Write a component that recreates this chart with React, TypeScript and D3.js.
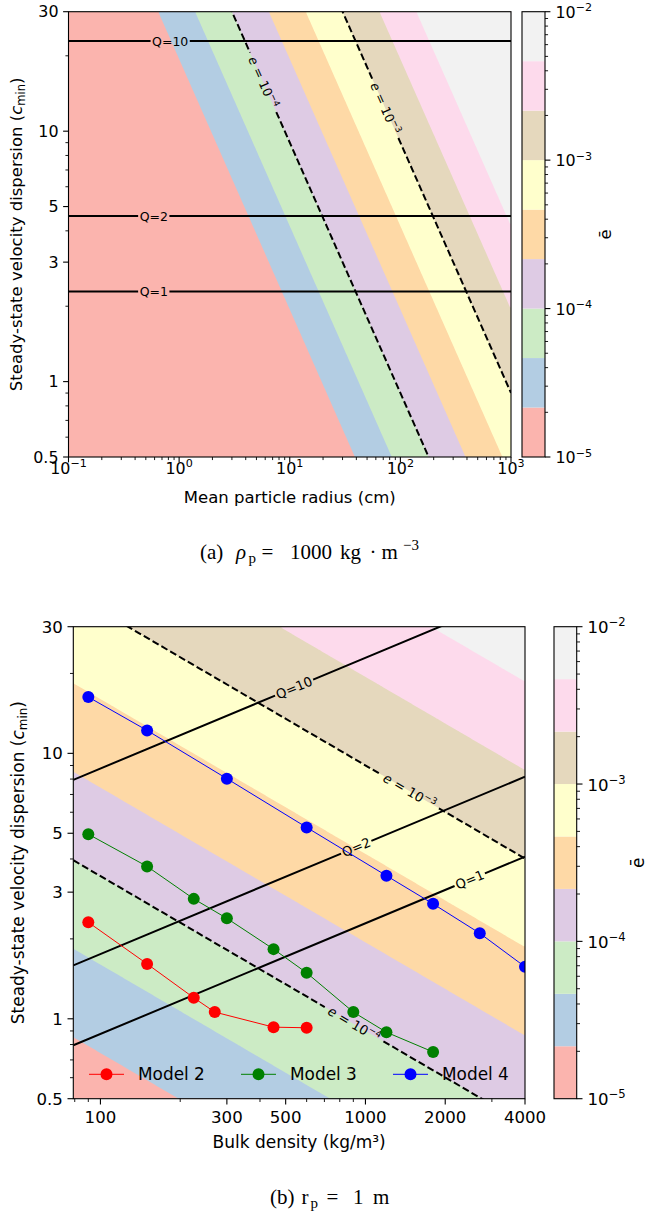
import React from "react";
import * as d3 from "d3";

const W = 647, H = 1212;
const FONT = "'DejaVu Sans', sans-serif";
const SERIF = "'Liberation Serif', 'DejaVu Serif', serif";

// colour bands of e-bar (matplotlib Pastel1), 3 per decade between 1e-5 and 1e-2
const BAND_COLORS = ["#fbb4ae", "#b3cde3", "#ccebc5", "#decbe4", "#fed9a6", "#ffffcc", "#e5d8bd", "#fddaec", "#f2f2f2"];
const E_MIN = 1e-5, E_MAX = 1e-2;
const BANDS_PER_DECADE = 3;
const CBAR_EXPONENTS = [-5, -4, -3, -2];

// e-bar model: e = E0 * r[cm] * c[c_min] * (rho/1000)^GAMMA
const E0 = 1.11e-6;
const GAMMA = 0.583;
// Q contours: c = Q * Q_C1 * (rho/1000)^Q_BETA
const Q_C1 = 2.29;
const Q_BETA = 0.417;

// panel (a): rho_p = 1000 kg m^-3
const A_RHO = 1000;
const A_X_DOMAIN: [number, number] = [0.1, 1000];
const A_Y_DOMAIN: [number, number] = [0.5, 30];
const A_X_EXPONENTS = [-1, 0, 1, 2, 3];
const A_Y_TICKS = [0.5, 1, 3, 5, 10, 30];
const A_Q_LEVELS = [10, 2, 1];
const A_Q_LABEL_X = [0.83, 0.59, 0.59];
const A_E_EXPONENTS = [-4, -3];
const A_E_LABEL_X = [5.75, 73];

// panel (b): r_p = 1 m
const B_R_CM = 100;
const B_X_DOMAIN: [number, number] = [79, 4000];
const B_Y_DOMAIN: [number, number] = [0.5, 30];
const B_X_TICKS = [100, 300, 500, 1000, 2000, 4000];
const B_Y_TICKS = [0.5, 1, 3, 5, 10, 30];
const B_Q_LEVELS = [10, 2, 1];
const B_Q_LABEL_X = [538, 923, 2475];
const B_E_EXPONENTS = [-3, -4];
const B_E_LABEL_X = [1467, 906];

const MODEL_NAMES = ["Model 2", "Model 3", "Model 4"];
const MODEL_COLORS = ["#ff0000", "#008000", "#0000ff"];
const M2_RHO = [90, 150, 225, 270, 450, 600];
const M2_C = [2.31, 1.61, 1.2, 1.06, 0.93, 0.925];
const M3_RHO = [90, 150, 225, 300, 450, 600, 900, 1200, 1800];
const M3_C = [4.96, 3.75, 2.83, 2.39, 1.83, 1.49, 1.06, 0.89, 0.75];
const M4_RHO = [90, 150, 300, 600, 1200, 1800, 2700, 4000];
const M4_C = [16.3, 12.2, 8.03, 5.26, 3.46, 2.71, 2.1, 1.57];
const MODELS = [
  { rho: M2_RHO, c: M2_C },
  { rho: M3_RHO, c: M3_C },
  { rho: M4_RHO, c: M4_C },
];

const CW: Record<string, number> = { Q: 0.787, "=": 0.838, " ": 0.318, e: 0.615, "0": 0.636, "1": 0.636, "2": 0.636, "3": 0.636, "4": 0.636, "−": 0.838 };
function textW(s: string, size: number) {
  let w = 0;
  for (const ch of s) w += CW[ch] ?? 0.6;
  return w * size;
}

function logTicks(domain: [number, number]) {
  const out: number[] = [];
  const k0 = Math.floor(Math.log10(domain[0])), k1 = Math.ceil(Math.log10(domain[1]));
  for (let k = k0; k <= k1; k++)
    for (let m = 1; m < 10; m++) {
      const v = m * Math.pow(10, k);
      if (v >= domain[0] * 0.9999 && v <= domain[1] * 1.0001) out.push(v);
    }
  return out;
}
const isMajor = (v: number, majors: number[]) => majors.some((m) => Math.abs(v / m - 1) < 1e-6);

type Box = { l: number; t: number; r: number; b: number };
type PanelProps = {
  id: string;
  box: Box;
  cbar: { l: number; r: number };
  xDomain: [number, number];
  yDomain: [number, number];
  xTicks: number[];
  xTickLabel: (v: number) => React.ReactNode;
  xTickBaseline: number;
  yTicks: number[];
  eAt: (x: number, c: number) => number;
  qAt: (x: number) => number;
  qLevels: number[];
  qLabelX: number[];
  eExps: number[];
  eLabelX: number[];
  tickFont: number;
  titleFont: number;
  labelFont: number;
  majorLen: number;
  xTitle: React.ReactNode;
  xTitleY: number;
  yTitleX: number;
  cbarTitleX: number;
  children?: (x: any, y: any) => React.ReactNode;
};

function Sup({ base, exp, size }: { base: string; exp: string; size: number }) {
  return (
    <>
      {base}
      <tspan fontSize={size * 0.7} dy={-size * 0.42}>{exp}</tspan>
    </>
  );
}

function Panel(p: PanelProps) {
  const { box, cbar } = p;
  const x = d3.scaleLog().domain(p.xDomain).range([box.l, box.r]);
  const y = d3.scaleLog().domain(p.yDomain).range([box.b, box.t]);

  // colour field
  const NX = 260, NY = 260;
  const lx0 = Math.log10(p.xDomain[0]), lx1 = Math.log10(p.xDomain[1]);
  const ly0 = Math.log10(p.yDomain[0]), ly1 = Math.log10(p.yDomain[1]);
  const vals: number[] = new Array(NX * NY);
  for (let j = 0; j < NY; j++) {
    const cv = Math.pow(10, ly1 - ((j + 0.5) / NY) * (ly1 - ly0));
    for (let i = 0; i < NX; i++) {
      const xv = Math.pow(10, lx0 + ((i + 0.5) / NX) * (lx1 - lx0));
      vals[j * NX + i] = (Math.log10(p.eAt(xv, cv)) - Math.log10(E_MIN)) * BANDS_PER_DECADE;
    }
  }
  const thresholds = d3.range(1, BAND_COLORS.length);
  const polys = d3.contours().size([NX, NY]).thresholds(thresholds)(vals);
  const proj = d3.geoTransform({
    point(gx: number, gy: number) {
      (this as any).stream.point(box.l + (gx / NX) * (box.r - box.l), box.t + (gy / NY) * (box.b - box.t));
    },
  });
  const gpath = d3.geoPath(proj as any);

  const line = d3.line();
  const broken = (cFn: (v: number) => number, lxv: number, half: number) => {
    const p0: [number, number] = [x(p.xDomain[0]), y(cFn(p.xDomain[0]))];
    const p1: [number, number] = [x(p.xDomain[1]), y(cFn(p.xDomain[1]))];
    const L = Math.hypot(p1[0] - p0[0], p1[1] - p0[1]);
    const ux = (p1[0] - p0[0]) / L, uy = (p1[1] - p0[1]) / L;
    const cx = x(lxv), cy = y(cFn(lxv));
    const a: [number, number] = [cx - ux * half, cy - uy * half];
    const b: [number, number] = [cx + ux * half, cy + uy * half];
    const ang = (Math.atan2(uy, ux) * 180) / Math.PI;
    return { d: (line([p0, a]) ?? "") + (line([b, p1]) ?? ""), cx, cy, ang };
  };

  const qLines = p.qLevels.map((q, k) => {
    const txt = "Q=" + q;
    const half = textW(txt, p.labelFont) / 2 + 1.5;
    return { ...broken((v) => q * p.qAt(v), p.qLabelX[k], half), txt };
  });
  const eLines = p.eExps.map((ex, k) => {
    const w = textW("e = 10", p.labelFont) + textW("−" + Math.abs(ex), p.labelFont * 0.7);
    const half = w / 2 + 5;
    return { ...broken((v) => Math.pow(10, ex) / p.eAt(v, 1), p.eLabelX[k], half), ex };
  });

  const yc = d3.scaleLog().domain([E_MIN, E_MAX]).range([box.b, box.t]);
  const nb = BAND_COLORS.length;
  const bandEdges = d3.range(nb + 1).map((k) => Math.pow(10, Math.log10(E_MIN) + k / BANDS_PER_DECADE));
  const cbMajor = CBAR_EXPONENTS.map((e) => Math.pow(10, e));

  const xMinor = logTicks(p.xDomain).filter((v) => !isMajor(v, p.xTicks));
  const yMinor = logTicks(p.yDomain).filter((v) => !isMajor(v, p.yTicks));
  const cMinor = logTicks([E_MIN, E_MAX]).filter((v) => !isMajor(v, cbMajor));
  const minorLen = p.majorLen * 0.57;
  const fs = p.tickFont;
  const ft = p.titleFont;
  const clip = "clip-" + p.id;

  return (
    <g>
      <defs>
        <clipPath id={clip}>
          <rect x={box.l} y={box.t} width={box.r - box.l} height={box.b - box.t} />
        </clipPath>
      </defs>
      <g clipPath={`url(#${clip})`}>
        <rect x={box.l} y={box.t} width={box.r - box.l} height={box.b - box.t} fill={BAND_COLORS[0]} />
        {polys.map((c, k) => (
          <path key={k} d={gpath(c as any) ?? ""} fill={BAND_COLORS[Math.min(nb - 1, k + 1)]} stroke="none" />
        ))}
        {qLines.map((l, k) => (
          <path key={"q" + k} d={l.d} fill="none" stroke="#000" strokeWidth={2} />
        ))}
        {eLines.map((l, k) => (
          <path key={"e" + k} d={l.d} fill="none" stroke="#000" strokeWidth={2} strokeDasharray="7,3.2" />
        ))}
        {qLines.map((l, k) => (
          <g key={"ql" + k} transform={`translate(${l.cx},${l.cy}) rotate(${l.ang})`}>
            <text y={p.labelFont * 0.36} textAnchor="middle" fontSize={p.labelFont} fontFamily={FONT} fill="#000">
              {l.txt}
            </text>
          </g>
        ))}
        {eLines.map((l, k) => (
          <g key={"el" + k} transform={`translate(${l.cx},${l.cy}) rotate(${l.ang})`}>
            <text y={p.labelFont * 0.36} textAnchor="middle" fontSize={p.labelFont} fontFamily={FONT} fill="#000">
              <tspan fontStyle="italic">e</tspan>
              {" = "}
              <Sup base="10" exp={"−" + Math.abs(l.ex)} size={p.labelFont} />
            </text>
          </g>
        ))}
        {p.children ? p.children(x, y) : null}
      </g>
      <rect x={box.l} y={box.t} width={box.r - box.l} height={box.b - box.t} fill="none" stroke="#000" strokeWidth={1.1} />

      {/* y ticks */}
      {p.yTicks.map((v, k) => (
        <g key={"yt" + k}>
          <line x1={box.l - p.majorLen} x2={box.l} y1={y(v)} y2={y(v)} stroke="#000" strokeWidth={1.1} />
          <text x={box.l - p.majorLen - 4.6} y={y(v) + fs * 0.36} textAnchor="end" fontSize={fs} fontFamily={FONT}>
            {String(v)}
          </text>
        </g>
      ))}
      {yMinor.map((v, k) => (
        <line key={"ym" + k} x1={box.l - minorLen} x2={box.l} y1={y(v)} y2={y(v)} stroke="#000" strokeWidth={0.9} />
      ))}
      {/* x ticks */}
      {p.xTicks.map((v, k) => (
        <g key={"xt" + k}>
          <line x1={x(v)} x2={x(v)} y1={box.b} y2={box.b + p.majorLen} stroke="#000" strokeWidth={1.1} />
          <text x={x(v)} y={p.xTickBaseline} textAnchor="middle" fontSize={fs} fontFamily={FONT}>
            {p.xTickLabel(v)}
          </text>
        </g>
      ))}
      {xMinor.map((v, k) => (
        <line key={"xm" + k} x1={x(v)} x2={x(v)} y1={box.b} y2={box.b + minorLen} stroke="#000" strokeWidth={0.9} />
      ))}
      <text x={(box.l + box.r) / 2} y={p.xTitleY} textAnchor="middle" fontSize={ft} fontFamily={FONT}>
        {p.xTitle}
      </text>
      <text
        transform={`translate(${p.yTitleX},${(box.t + box.b) / 2}) rotate(-90)`}
        textAnchor="middle"
        fontSize={ft}
        fontFamily={FONT}
      >
        Steady-state velocity dispersion (<tspan fontStyle="italic">c</tspan>
        <tspan fontSize={ft * 0.7} dy={ft * 0.18}>min</tspan>
        <tspan dy={-ft * 0.18}>)</tspan>
      </text>

      {/* colour bar */}
      {d3.range(nb).map((k) => (
        <rect
          key={"cb" + k}
          x={cbar.l}
          y={yc(bandEdges[k + 1])}
          width={cbar.r - cbar.l}
          height={yc(bandEdges[k]) - yc(bandEdges[k + 1])}
          fill={BAND_COLORS[k]}
        />
      ))}
      <rect x={cbar.l} y={box.t} width={cbar.r - cbar.l} height={box.b - box.t} fill="none" stroke="#000" strokeWidth={1.1} />
      {CBAR_EXPONENTS.map((e, k) => (
        <g key={"cbt" + k}>
          <line x1={cbar.r} x2={cbar.r + p.majorLen} y1={yc(Math.pow(10, e))} y2={yc(Math.pow(10, e))} stroke="#000" strokeWidth={1.1} />
          <text x={cbar.r + p.majorLen + 5} y={yc(Math.pow(10, e)) + fs * 0.4} fontSize={fs} fontFamily={FONT}>
            <Sup base="10" exp={"−" + Math.abs(e)} size={fs} />
          </text>
        </g>
      ))}
      {cMinor.map((v, k) => (
        <line key={"cm" + k} x1={cbar.r} x2={cbar.r + minorLen} y1={yc(v)} y2={yc(v)} stroke="#000" strokeWidth={0.9} />
      ))}
      <text
        transform={`translate(${p.cbarTitleX},${(box.t + box.b) / 2}) rotate(-90)`}
        textAnchor="middle"
        fontSize={ft}
        fontFamily={FONT}
      >
        ē
      </text>
    </g>
  );
}

export default function App() {
  const eA = (r: number, c: number) => E0 * r * c * Math.pow(A_RHO / 1000, GAMMA);
  const qA = (_r: number) => Q_C1 * Math.pow(A_RHO / 1000, Q_BETA);
  const eB = (rho: number, c: number) => E0 * B_R_CM * c * Math.pow(rho / 1000, GAMMA);
  const qB = (rho: number) => Q_C1 * Math.pow(rho / 1000, Q_BETA);
  const legendY = 1074.3;
  const legendX0 = 89, legendStep = 152;
  const fsLeg = 16.9;

  return (
    <svg
      width={W}
      height={H}
      viewBox={`0 0 ${W} ${H}`}
      style={{ position: "absolute", left: 0, top: 0, background: "#fff" }}
      xmlns="http://www.w3.org/2000/svg"
    >
      <rect x={0} y={0} width={W} height={H} fill="#fff" />
      <Panel
        id="a"
        box={{ l: 68.5, t: 11.7, r: 511, b: 457 }}
        cbar={{ l: 522, r: 545 }}
        xDomain={A_X_DOMAIN}
        yDomain={A_Y_DOMAIN}
        xTicks={A_X_EXPONENTS.map((e) => Math.pow(10, e))}
        xTickLabel={(v) => {
          const e = Math.round(Math.log10(v));
          return <Sup base="10" exp={(e < 0 ? "−" : "") + Math.abs(e)} size={15.9} />;
        }}
        xTickBaseline={473.5}
        yTicks={A_Y_TICKS}
        eAt={eA}
        qAt={qA}
        qLevels={A_Q_LEVELS}
        qLabelX={A_Q_LABEL_X}
        eExps={A_E_EXPONENTS}
        eLabelX={A_E_LABEL_X}
        tickFont={15.9}
        titleFont={16.5}
        labelFont={12.5}
        majorLen={5.4}
        xTitle="Mean particle radius (cm)"
        xTitleY={503}
        yTitleX={22}
        cbarTitleX={611}
      />
      <Panel
        id="b"
        box={{ l: 73.3, t: 626.7, r: 525, b: 1098.7 }}
        cbar={{ l: 554, r: 576.7 }}
        xDomain={B_X_DOMAIN}
        yDomain={B_Y_DOMAIN}
        xTicks={B_X_TICKS}
        xTickLabel={(v) => String(v)}
        xTickBaseline={1123}
        yTicks={B_Y_TICKS}
        eAt={eB}
        qAt={qB}
        qLevels={B_Q_LEVELS}
        qLabelX={B_Q_LABEL_X}
        eExps={B_E_EXPONENTS}
        eLabelX={B_E_LABEL_X}
        tickFont={16.6}
        titleFont={17}
        labelFont={13.2}
        majorLen={5.8}
        xTitle="Bulk density (kg/m³)"
        xTitleY={1147.5}
        yTitleX={24}
        cbarTitleX={643.5}
      >
        {(x: any, y: any) => {
          const ln = d3
            .line<[number, number]>()
            .x((d) => x(d[0]))
            .y((d) => y(d[1]));
          return (
            <g>
              {MODELS.map((m, k) => (
                <g key={"m" + k}>
                  <path
                    d={ln(m.rho.map((r, i) => [r, m.c[i]] as [number, number])) ?? ""}
                    fill="none"
                    stroke={MODEL_COLORS[k]}
                    strokeWidth={1}
                  />
                  {m.rho.map((r, i) => (
                    <circle key={i} cx={x(r)} cy={y(m.c[i])} r={6} fill={MODEL_COLORS[k]} />
                  ))}
                </g>
              ))}
            </g>
          );
        }}
      </Panel>
      {/* legend */}
      {MODEL_NAMES.map((name, k) => {
        const lx = legendX0 + k * legendStep;
        return (
          <g key={"lg" + k}>
            <line x1={lx} x2={lx + 35} y1={legendY} y2={legendY} stroke={MODEL_COLORS[k]} strokeWidth={1} />
            <circle cx={lx + 17.5} cy={legendY} r={6} fill={MODEL_COLORS[k]} />
            <text x={lx + 49} y={legendY + fsLeg * 0.36} fontSize={fsLeg} fontFamily={FONT}>
              {name}
            </text>
          </g>
        );
      })}
      {/* captions */}
      <g fontFamily={SERIF} fontSize={21} fill="#000">
        <text x={200} y={559}>(a)</text>
        <text x={236} y={559} fontStyle="italic">ρ</text>
        <text x={248.5} y={563} fontSize={15}>p</text>
        <text x={261.5} y={559}>=</text>
        <text x={290} y={559}>1000</text>
        <text x={340} y={559}>kg</text>
        <text x={369.5} y={559}>·</text>
        <text x={381.5} y={559}>m</text>
        <text x={403} y={550} fontSize={15}>−3</text>

        <text x={270} y={1204}>(b)</text>
        <text x={301.5} y={1204}>r</text>
        <text x={310.5} y={1208} fontSize={15}>p</text>
        <text x={326.5} y={1204}>=</text>
        <text x={353} y={1204}>1</text>
        <text x={373} y={1204}>m</text>
      </g>
    </svg>
  );
}
